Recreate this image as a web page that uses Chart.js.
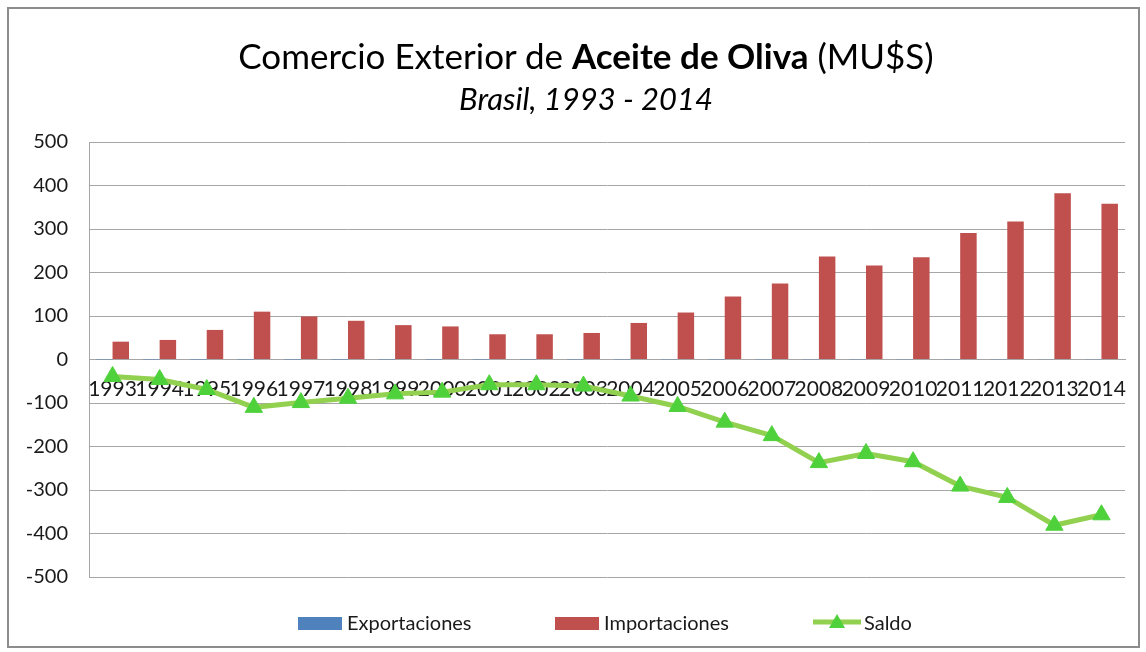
<!DOCTYPE html>
<html><head><meta charset="utf-8">
<script src="https://cdn.jsdelivr.net/npm/chart.js@4/dist/chart.umd.min.js"></script>
<style>
html,body{margin:0;padding:0;background:#fff;}
#wrap{position:relative;width:1146px;height:652px;overflow:hidden;font-family:Lato,sans-serif;}
#frame{position:absolute;left:7px;top:7px;width:1133px;height:641px;border:2px solid #8c8c8c;box-sizing:border-box;}
canvas{position:absolute;left:0;top:0;}
.t{position:absolute;left:0;width:1172px;text-align:center;color:#000;white-space:nowrap;}
#title{top:38px;font-size:35px;line-height:35px;}
#sub{top:83px;font-size:31px;line-height:31px;font-style:italic;}
.lg{position:absolute;top:611px;height:22px;font-size:20px;line-height:22px;color:#1a1a1a;white-space:nowrap;}
.box{position:absolute;top:6px;width:44px;height:13px;}
</style></head>
<body><div id="wrap">
<div id="frame"></div>
<canvas id="c" width="1146" height="652"></canvas>
<div class="t" id="title">Comercio Exterior de <b>Aceite de Oliva</b> (MU$S)</div>
<div class="t" id="sub">Brasil, 1993 - 2014</div>
<div class="lg" style="left:298px;"><div class="box" style="left:0;background:#4f81bd;"></div><span style="position:absolute;left:49px;">Exportaciones</span></div>
<div class="lg" style="left:555px;"><div class="box" style="left:0;background:#c0504d;"></div><span style="position:absolute;left:49px;">Importaciones</span></div>
<div class="lg" style="left:813px;"><svg width="50" height="22" style="position:absolute;left:0;top:0;"><line x1="0" y1="11" x2="48" y2="11" stroke="#92d050" stroke-width="5"/><polygon points="24,3 32,17 16,17" fill="#4fd13c"/></svg><span style="position:absolute;left:51px;">Saldo</span></div>
</div>
<script>
const years = ['1993','1994','1995','1996','1997','1998','1999','2000','2001','2002','2003','2004','2005','2006','2007','2008','2009','2010','2011','2012','2013','2014'];
const exportaciones = [0.3,0.2,0.2,0.3,0.2,0.2,0.3,0.2,0.2,0.3,0.3,0.4,0.5,0.4,0.5,0.6,0.5,0.6,0.7,0.6,0.8,0.7];
const importaciones = [41,45,68,110,99,89,79,76,58,58,61,84,108,145,175,237,216,235,291,317,382,358];
const saldo = [-39,-46,-69,-110,-99,-89,-79,-75,-58,-58,-61,-84,-108,-144,-175,-237,-216,-235,-291,-317,-381,-357];
const yTicks = [-500,-400,-300,-200,-100,0,100,200,300,400,500];

new Chart(document.getElementById('c').getContext('2d'), {
  type: 'bar',
  data: {
    labels: years,
    datasets: [
      {type:'bar', label:'Exportaciones', data: exportaciones, backgroundColor:'#4f81bd', order:1},
      {type:'bar', label:'Importaciones', data: importaciones, backgroundColor:'#c0504d', order:1},
      {type:'line', label:'Saldo', data: saldo, borderColor:'#92d050', borderWidth:5,
       pointStyle:'triangle', pointRadius:10, pointBackgroundColor:'#4fd13c', pointBorderColor:'#4fd13c',
       pointBorderWidth:1, tension:0, order:0}
    ]
  },
  options: {
    responsive:false, animation:false,
    layout:{padding:{top:142,right:21,bottom:75,left:0}},
    plugins:{legend:{display:false}, tooltip:{enabled:false}, title:{display:false}},
    datasets:{bar:{categoryPercentage:0.7, barPercentage:1}},
    scales:{
      x:{position:{y:0}, grid:{display:false, drawTicks:false}, border:{display:true,color:'#a6a6a6',width:1},
         ticks:{font:{family:'Lato',size:21}, color:'#1a1a1a', padding:17, maxRotation:0, autoSkip:false}},
      y:{min:-500, max:500,
         afterBuildTicks(s){ s.ticks = yTicks.map(v=>({value:v})); },
         afterFit(s){ s.width = 89; },
         grid:{color:'#a6a6a6', drawTicks:false}, border:{color:'#a6a6a6', width:1},
         ticks:{font:{family:'Lato',size:20}, color:'#1a1a1a', padding:21}}
    }
  }
});
</script>
</body></html>
